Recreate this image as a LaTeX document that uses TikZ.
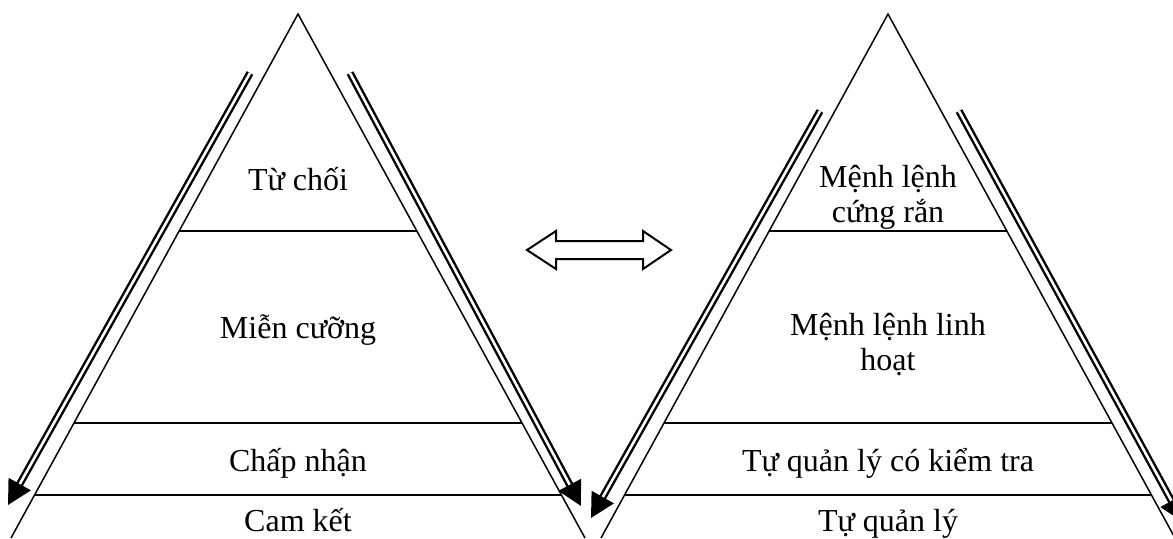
\documentclass[tikz,border=0pt]{standalone}
\usepackage{fontspec}
\setmainfont{Liberation Serif}
\usetikzlibrary{arrows.meta,calc}

\begin{document}
\begin{tikzpicture}[
    x=0.5pt, y=-0.5pt,
    line width=0.75pt,
    layer/.style={font=\fontsize{16}{17.5}\selectfont, align=center, anchor=base, inner sep=0pt},
    flow/.style={double, double distance=1.3pt, line width=1.2pt, -{Triangle[length=12pt,width=12.5pt]}}
]
    \useasboundingbox (0,0) rectangle (1173,538);

    % left pyramid
    \coordinate (lA) at (298,14);
    \coordinate (lB) at (11,538);
    \coordinate (lC) at (585,538);
    \draw (lB) -- (lA) -- (lC);
    \foreach \t in {0.414,0.7805,0.918}
        \draw ($(lA)!\t!(lB)$) -- ($(lA)!\t!(lC)$);

    \node[layer] (refuse) at (298,190) {Từ chối};
    \node[layer] (reluct) at (298,338) {Miễn cưỡng};
    \node[layer] (accept) at (298,471) {Chấp nhận};
    \node[layer] (commit) at (298,531) {Cam kết};

    % right pyramid
    \coordinate (rA) at (888,14);
    \coordinate (rB) at (601,538);
    \coordinate (rC) at (1175,538);
    \draw (rB) -- (rA) -- (rC);
    \foreach \t in {0.414,0.7805,0.918}
        \draw ($(rA)!\t!(rB)$) -- ($(rA)!\t!(rC)$);

    \node[layer] (strict) at (888,222) {Mệnh lệnh\\cứng rắn};
    \node[layer] (flex)   at (888,370) {Mệnh lệnh linh\\hoạt};
    \node[layer] (check)  at (888,471) {Tự quản lý có kiểm tra};
    \node[layer] (self)   at (888,531) {Tự quản lý};

    % side arrows
    \coordinate (l1s) at (250,73);  \coordinate (l1e) at (8,505);
    \coordinate (l2s) at (350,73);  \coordinate (l2e) at (581,506);
    \coordinate (r1s) at (820,111); \coordinate (r1e) at (591,518);
    \coordinate (r2s) at (959,111); \coordinate (r2e) at (1183,522);
    \draw[flow] (l1s) -- (l1e);
    \draw[flow] (l2s) -- (l2e);
    \draw[flow] (r1s) -- (r1e);
    \draw[flow] (r2s) -- (r2e);

    % two-way arrow in between
    \draw[line width=1pt] (527,250) -- (556,231) -- (556,241) -- (643,241) -- (643,231) -- (671,250)
        -- (643,269) -- (643,259) -- (556,259) -- (556,269) -- cycle;
\end{tikzpicture}
\end{document}
